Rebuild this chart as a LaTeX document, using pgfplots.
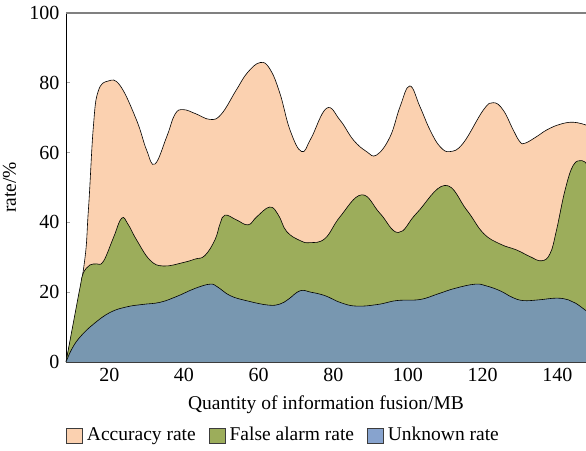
\documentclass[border=0pt]{standalone}
\usepackage{fontspec}
\setmainfont{Liberation Serif}
\usepackage{pgfplots}
\usepackage{pgfplotstable}
\pgfplotsset{compat=1.18}
\definecolor{acc}{RGB}{251,209,176}
\definecolor{fal}{RGB}{156,173,91}
\definecolor{unk}{RGB}{120,151,176}
\definecolor{unkL}{RGB}{135,163,206}
\definecolor{fr}{RGB}{60,60,60}

\pgfplotstableread{
x y
8.4 0
13.0 26
14.4 43.6
15.7 67
17.0 77.5
19.7 80.5
22.9 79.2
27.3 69.3
30.0 60.7
32.2 56.7
35.4 64.6
37.6 71.0
39.8 72.3
43.0 71.2
47.0 69.5
50.0 71.0
54.0 77.9
57.0 82.9
60.4 85.8
63.0 84.0
65.7 77.0
68.4 66.5
71.5 60.3
74.0 64.0
78.2 72.7
81.8 69.3
85.4 63.6
88.9 60.3
91.6 59.3
95.2 64.5
97.9 73.2
100.5 79.1
103.2 73.2
105.9 66.5
108.6 61.7
111.3 60.3
114.8 62.7
120.2 72.2
122.9 74.3
125.5 72.2
128.2 66.5
130.0 63.1
131.4 62.7
134.5 64.6
137.2 66.5
140.7 68.1
144.3 68.7
147.7 67.9
}\accdata

\pgfplotstableread{
x y
8.4 0
10.5 12
12.2 21.6
13.0 25.4
14.8 27.8
16.6 28.1
18.4 28.8
21.1 35.6
23.3 41.2
25.0 39.5
27.3 35
30.9 29.2
34.5 27.5
39.8 28.5
43.0 29.5
45.6 30.5
48.3 35.0
49.7 39.7
51.0 42.1
54.1 40.7
57.2 39.3
59.5 41.6
63.0 44.4
65.3 42.1
67.5 37.4
71.1 34.8
73.8 34.2
77.8 35.4
81.8 41.6
87.6 47.9
92.5 42.6
97.4 37.1
102.3 42.6
109.9 50.6
115.7 43.6
120.2 36.9
124.7 33.8
129.1 32.1
132.7 30.2
135.8 29.0
138.1 31.1
139.8 37.8
142.1 49.3
144.3 56.4
146.6 57.7
147.7 56.9
}\faldata

\pgfplotstableread{
x y
8.4 0
10.0 3.8
12.2 7.2
15.7 10.8
20.2 14.2
24.7 15.8
29.0 16.5
33.6 17.1
38.1 18.8
43.0 21.1
47.0 22.3
49.0 21.5
52.4 19.0
57.0 17.5
62.6 16.3
65.7 16.6
68.0 18
71.1 20.4
74.0 20
77.8 19.0
82.0 17
86.3 16.0
92.0 16.5
97.0 17.6
103.2 17.9
108.0 19.5
112.6 21.1
118.0 22.3
121.0 21.8
124.7 20.4
128.0 18.5
130.9 17.6
135.0 17.8
139.8 18.3
143.0 17.8
145.0 16.8
147.7 14.7
}\unkdata

\begin{document}
\fontsize{19.5}{22}\selectfont
\begin{tikzpicture}
\begin{axis}[
  scale only axis, width=520pt, height=349pt,
  xmin=8.4, xmax=147.7, ymin=0, ymax=100,
  axis x line=bottom, axis y line=left,
  axis line style={-, line width=0.8pt},
  x axis line style={fr},
  y axis line style={black},
  xtick={20,40,...,140}, ytick={0,20,...,100},
  tick align=inside, major tick length=4pt,
  tick style={gray!70, line width=0.6pt},
  /pgf/number format/assume math mode=true,
  ticklabel style={font=\fontsize{20}{22}\selectfont},
  label style={font=\fontsize{19.5}{22}\selectfont},
  xlabel={Quantity of information fusion/MB},
  ylabel={rate/\%},
  legend columns=3,
  legend style={draw=none, fill=none, at={(axis description cs:0,0)}, yshift=-63pt, anchor=north west, inner sep=0pt,
    font=\fontsize{19.5}{22}\selectfont,
    /tikz/every even column/.append style={column sep=11pt}},
  legend image code/.code={\draw[#1] (0pt,-8pt) rectangle (16pt,7pt);},
  clip=true,
]
\addplot[fill=acc, draw=none, smooth, tension=0.7, forget plot] table {\accdata} \closedcycle;
\addplot[black, line width=0.6pt, smooth, tension=0.7, forget plot] table {\accdata};
\addplot[fill=fal, draw=none, smooth, tension=0.7, forget plot] table {\faldata} \closedcycle;
\addplot[black, line width=0.6pt, smooth, tension=0.7, forget plot] table {\faldata};
\addplot[fill=unk, draw=none, smooth, tension=0.7, forget plot] table {\unkdata} \closedcycle;
\addplot[black, line width=0.6pt, smooth, tension=0.7, forget plot] table {\unkdata};
\addlegendimage{fill=acc, draw=fr, line width=0.8pt}
\addlegendentry{\hspace{2pt}Accuracy rate}
\addlegendimage{fill=fal, draw=fr, line width=0.8pt}
\addlegendentry{\hspace{2pt}False alarm rate\hspace{8pt}}
\addlegendimage{fill=unkL, draw=fr, line width=0.8pt}
\addlegendentry{\hspace{2pt}Unknown rate}
\draw[gray, line width=1.2pt] (rel axis cs:0,1) -- (rel axis cs:1,1);
\end{axis}
\pgfresetboundingbox
\path ([shift={(-66pt,-89pt)}]current axis.south west) rectangle ([shift={(0pt,13pt)}]current axis.north east);
\end{tikzpicture}
\end{document}
